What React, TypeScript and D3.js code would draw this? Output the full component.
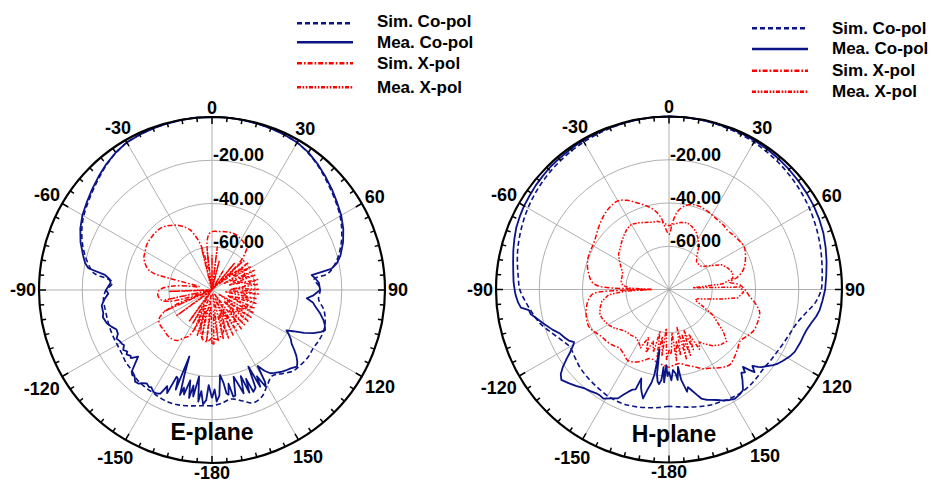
import * as d3 from "d3";

const WIDTH = 933;
const HEIGHT = 483;
const R = 173;
const NAVY = "#0a1486";
const RED = "#ff0000";
const GRID = "#a6a6a6";
const FONT = "'Liberation Sans', Arial, Helvetica, sans-serif";

const RING_DB = [-60, -40, -20];
const RING_LABELS = ["-60.00", "-40.00", "-20.00"];
const SPOKE_ANGLES = [0, 30, 60, 90, 120, 150, 180, 210, 240, 270, 300, 330];
const ANGLE_LABELS = ["0", "30", "60", "90", "120", "150", "-180", "-150", "-120", "-90", "-60", "-30"];
const LEGEND_LABELS = ["Sim. Co-pol", "Mea. Co-pol", "Sim. X-pol", "Mea. X-pol"];

// [angle in degrees, gain in dB]
const E_SIM_CO = [
  [-180, -26.4], [-175, -26.3], [-170, -25.6], [-165, -24.8], [-160, -24.4], [-155, -24.6], [-150, -25.2],
  [-145, -25.5], [-140, -26], [-135, -27.5], [-130, -28], [-125, -29], [-120, -29.4], [-115, -29.5],
  [-110, -29.6], [-105, -29.8], [-100, -29.8], [-95, -29.6], [-90, -31], [-87, -33.5], [-85, -33.4],
  [-82, -25], [-80, -23], [-75, -19.3], [-70, -16.2], [-65, -13.6], [-60, -11.5], [-55, -9.9], [-50, -8.2],
  [-45, -6.3], [-40, -4.3], [-35, -2.6], [-30, -1.3], [-25, -0.8], [-20, -0.5], [-15, -0.3], [-10, -0.1],
  [-5, 0], [0, 0], [5, 0], [10, -0.1], [15, -0.3], [20, -0.5], [25, -0.8], [30, -1.3], [35, -2.6],
  [40, -4.3], [45, -6.3], [50, -8.2], [55, -9.9], [60, -11.6], [65, -13.8], [70, -16.4], [75, -19.5],
  [80, -23.5], [82, -26], [84, -32.5], [87, -31], [90, -30], [95, -30.5], [100, -27.5], [105, -25.8],
  [110, -25], [115, -25.3], [120, -26], [125, -25.8], [130, -26.3], [135, -27], [140, -29.5], [145, -31.5],
  [150, -29], [155, -25.5], [160, -24.5], [165, -27], [170, -28.8], [175, -27.5], [180, -26.4],
];

const E_MEA_CO = [
  [-180, -30], [-178, -36], [-177, -29], [-175.5, -27], [-174, -33], [-173, -28], [-171.5, -39.5],
  [-170, -30], [-169, -35], [-168, -29], [-166.5, -37], [-165, -30], [-164, -33], [-163, -29.3],
  [-162, -38.7], [-161.2, -47.5], [-160, -31], [-159, -36], [-157.8, -36.7], [-156.5, -28], [-155, -31],
  [-153.5, -26.5], [-151.8, -25.7], [-150, -25.7], [-148, -27], [-147, -26.5], [-145, -27.3], [-143, -26],
  [-142, -25], [-140, -24.7], [-138, -26.5], [-137, -26], [-135.5, -27], [-134, -30.3], [-132, -34],
  [-130, -31], [-129, -31.6], [-127, -30.5], [-126, -31.6], [-124, -30.5], [-122, -32], [-121, -31.5],
  [-119, -31.2], [-117, -30.5], [-115, -32], [-112.5, -32.2], [-110, -30.5], [-107.5, -29], [-104, -28],
  [-102, -28.6], [-98, -28.5], [-95, -30], [-92, -32], [-90, -31], [-88, -32], [-86, -33], [-84, -32.4],
  [-82, -30], [-80, -22], [-78, -20], [-75, -18.3], [-70, -15.3], [-65, -12.8], [-60, -10.8], [-55, -9.3],
  [-50, -7.6], [-45, -5.8], [-40, -4], [-35, -2.4], [-30, -1.2], [-25, -0.8], [-20, -0.5], [-15, -0.3],
  [-10, -0.1], [-5, 0], [0, 0], [5, 0], [10, -0.1], [15, -0.3], [20, -0.5], [25, -0.8], [30, -1.2],
  [35, -2.3], [40, -4], [45, -5.8], [50, -7.6], [55, -9.4], [60, -11], [65, -13], [70, -15.5], [75, -18.5],
  [78, -21], [80, -24], [81.5, -33.4], [83.5, -32], [86, -30.5], [90, -30], [93, -33], [95, -36], [97, -33],
  [99, -31.7], [102, -29], [105, -26.7], [107, -25.5], [109.5, -24.5], [111, -26], [113, -29], [115, -33],
  [117, -38], [118.5, -40.8], [120, -39], [122, -37], [124, -35.6], [126, -33], [128, -30.5], [130, -28.5],
  [132, -27.1], [134.5, -28.5], [137, -29.4], [140, -30.5], [143, -32], [145, -33], [147, -35.5],
  [149, -39], [150, -31], [151, -29], [152.5, -35], [153.5, -30], [154.6, -40.8], [156, -30.5],
  [157.9, -29.2], [159, -36], [160, -29.5], [161.5, -38], [163, -30], [164.5, -35], [166, -38.7],
  [167.5, -30], [168.7, -29.7], [170, -36], [171, -31], [172, -31.7], [173, -37], [174.6, -40.5],
  [176, -31], [177.6, -28.4], [178.5, -34], [180, -30],
];

const E_SIM_X = [
  [-180, -58], [-175, -56], [-170, -56.5], [-165, -60], [-160, -68], [-157, -62], [-153, -56],
  [-150, -54.5], [-145, -51.5], [-140, -50.7], [-135, -50.6], [-130, -51], [-125, -51], [-120, -51.6],
  [-116, -54], [-112, -62], [-109, -75], [-106, -62], [-102, -56.5], [-97, -55], [-92, -55], [-88, -57],
  [-84, -62], [-80, -70], [-76, -74], [-74, -52], [-72, -49], [-68, -46.5], [-64, -45], [-60, -44.3],
  [-56, -43.4], [-52, -43], [-48, -42.8], [-44, -42.7], [-40, -42.8], [-36, -43.5], [-32, -44.8],
  [-28, -46], [-24, -48], [-20, -50.4], [-17, -54], [-14.4, -57.7], [-12, -64], [-9, -70], [-6, -58],
  [-3, -54], [0, -53], [5, -52.8], [10, -52.5], [15, -52.2], [20, -52], [25, -52.3], [30, -53],
  [35, -53.8], [39, -54.5], [42, -57], [45, -62], [48, -72], [52, -66], [56, -63], [60, -62], [65, -64],
  [70, -70], [75, -66], [80, -64], [85, -66], [90, -72], [95, -66], [100, -64], [105, -66], [110, -72],
  [115, -65], [120, -63], [125, -65], [130, -72], [135, -66], [140, -63], [145, -62], [150, -64],
  [155, -70], [160, -64], [165, -60], [170, -58], [175, -57], [180, -58],
];

const E_MEA_X = [
  [-180, -55], [-177, -72], [-174, -56], [-171, -78], [-168, -57], [-165, -70], [-162, -58], [-159, -75],
  [-156, -60], [-153, -72], [-150, -62], [-147, -78], [-144, -62], [-141, -76], [-136, -80], [-130, -78],
  [-126, -60], [-123, -78], [-118, -80], [-114, -56], [-111, -76], [-106, -80], [-102, -58], [-99, -78],
  [-95, -80], [-92, -60], [-89, -78], [-85, -80], [-75, -80], [-65, -80], [-55, -80], [-45, -80],
  [-35, -80], [-25, -80], [-18, -78], [-14, -60], [-11, -78], [-7, -62], [-4, -80], [0, -64], [3, -80],
  [7, -60], [10, -78], [14, -66], [18, -80], [25, -80], [30, -70], [34, -80], [40, -64], [44, -78],
  [47, -60], [50, -76], [53, -59], [56, -68], [59, -59], [62, -74], [65, -58.5], [68, -66], [71, -58.5],
  [74, -72], [77, -58.3], [80, -64], [83, -58.3], [86, -70], [89, -58.5], [92, -66], [95, -58.5],
  [98, -74], [101, -59], [104, -66], [107, -58.4], [110, -72], [113, -58.5], [116, -64], [119, -58],
  [122, -76], [125, -58], [128, -66], [131, -57.6], [134, -72], [137, -58], [140, -68], [143, -57.5],
  [146, -78], [149, -57.5], [152, -70], [155, -57], [158, -76], [161, -56.5], [164, -68], [167, -56.6],
  [170, -78], [173, -56.5], [176, -70], [178, -55], [180, -55],
];

const H_SIM_CO = [
  [-180, -26], [-175, -25.2], [-170, -24.5], [-165, -23.8], [-160, -23.2], [-155, -23], [-150, -23.2],
  [-145, -23.8], [-140, -24.3], [-135, -24.8], [-130, -25.5], [-125, -26.5], [-120, -27], [-115, -25],
  [-110, -22], [-105, -18.5], [-100, -16], [-95, -13.5], [-90, -11], [-85, -10], [-80, -8.8], [-75, -7.6],
  [-70, -6.6], [-65, -5.6], [-60, -4.7], [-55, -3.9], [-50, -3.2], [-45, -2.6], [-40, -2.1], [-35, -1.6],
  [-30, -1.2], [-25, -0.9], [-20, -0.6], [-15, -0.4], [-10, -0.2], [-5, -0.1], [0, 0], [5, -0.1],
  [10, -0.2], [15, -0.4], [20, -0.7], [25, -1], [30, -1.4], [35, -1.9], [40, -2.4], [45, -3], [50, -3.6],
  [55, -4.3], [60, -5], [65, -5.8], [70, -6.6], [75, -7.4], [80, -8.2], [85, -8.9], [90, -9.6], [95, -12],
  [100, -16], [105, -19], [110, -20.5], [115, -21.5], [120, -22.3], [125, -22.7], [130, -23], [135, -22.5],
  [140, -22], [145, -21.8], [150, -22.2], [155, -22.8], [160, -23.2], [165, -24], [170, -24.8],
  [175, -25.5], [180, -26],
];

const H_MEA_CO = [
  [-180, -42], [-179, -40], [-178, -45], [-177, -37], [-176, -44], [-175.2, -38], [-174, -36], [-173, -37],
  [-172, -40], [-171, -52], [-170.3, -40], [-169.3, -36], [-168, -33], [-166.6, -28.2], [-165, -31],
  [-164, -33], [-162.7, -36.9], [-161.5, -31.3], [-160, -30.7], [-158.2, -29], [-156.4, -26.8],
  [-154.9, -24.4], [-152, -23], [-149, -21.1], [-147, -21.5], [-145, -21.4], [-142, -20.5],
  [-139.6, -19.9], [-136, -18], [-133, -16.5], [-130, -15], [-128, -16.5], [-126, -19.4], [-124, -23],
  [-122.7, -25.4], [-120, -29], [-119, -29.8], [-117, -28], [-115, -27], [-112, -25.6], [-109, -23],
  [-105, -19.7], [-102, -17], [-100, -15], [-98.4, -14.5], [-97, -11], [-95, -10], [-92, -9], [-90, -8.6],
  [-87, -8], [-84, -7.6], [-80, -6.8], [-76, -5.8], [-72, -4.8], [-68, -3.8], [-64, -3.2], [-60, -2.6],
  [-56, -2.3], [-52, -1.8], [-48, -1.5], [-44, -1.1], [-40, -1], [-36, -0.8], [-32, -0.6], [-28, -0.4],
  [-24, -0.4], [-20, -0.3], [-15, -0.2], [-10, -0.1], [-5, 0], [0, 0], [5, 0], [10, -0.1], [15, -0.2],
  [20, -0.3], [25, -0.4], [30, -0.6], [35, -0.8], [40, -1.1], [45, -1.5], [50, -1.9], [55, -2.3],
  [60, -2.7], [65, -3.3], [70, -4], [75, -5], [80, -6], [85, -7], [90, -7.8], [94, -8.8], [97.8, -9.7],
  [100.4, -10.8], [103, -12.3], [106.4, -13.7], [108.8, -14.2], [112, -14.5], [116.4, -15.1],
  [119.1, -16.2], [122, -17.8], [124.2, -19.1], [126, -20.5], [128, -22.5], [130, -24.2], [131, -25.5],
  [132.5, -27.7], [134, -25], [135, -27.3], [136.3, -30.5], [137.5, -28], [139, -29], [141, -26],
  [143.6, -22.3], [146, -21.5], [149, -21], [151.2, -21.7], [153, -22.5], [155, -23.5], [157, -24.5],
  [159, -25.3], [161, -26], [163.5, -27.4], [165.5, -30], [167.5, -32.4], [169, -34], [170, -32],
  [171.5, -36], [172.3, -37.8], [173.4, -44], [174.5, -38], [175.5, -41], [177.2, -42.7], [178.5, -38],
  [180, -42],
];

const H_SIM_X = [
  [-180, -44], [-175, -45], [-170, -46], [-165, -47], [-160, -45], [-155, -43], [-150, -42], [-145, -43.5],
  [-140, -44.5], [-135, -43.5], [-130, -42.5], [-125, -42], [-120, -40.5], [-115, -39.2], [-110, -39.5],
  [-105, -40.3], [-100, -41.5], [-96, -43], [-93, -45], [-91, -60], [-90, -72], [-89, -60], [-87, -47],
  [-84, -44], [-80, -42.5], [-75, -41], [-70, -40], [-65, -39.5], [-60, -39.3], [-55, -38.5], [-50, -37],
  [-45, -35.5], [-40, -34], [-35, -33], [-30, -32.7], [-25, -34.5], [-20, -37.4], [-15, -40], [-10, -43],
  [-6, -47], [-3, -52], [0, -54.5], [3, -49], [6, -44], [10, -41], [15, -39.3], [20, -39], [25, -39.5],
  [30, -40.2], [35, -40.8], [40, -41], [45, -41.5], [50, -41], [55, -40.5], [60, -40], [65, -41],
  [70, -42.5], [75, -44.4], [80, -48], [83, -51.8], [86, -47.3], [90, -45], [95, -42.5], [100, -39],
  [104, -36.8], [110, -36.3], [116, -36.5], [121, -38], [126, -39.4], [131, -38], [136, -36.5],
  [141, -35.3], [146, -36.5], [151, -38.5], [157, -40.2], [162, -42.5], [167, -44], [172, -45.5],
  [176, -45], [180, -44],
];

const H_MEA_X = [
  [-180, -52], [-178, -47], [-176, -62], [-174, -49], [-172, -58], [-170, -48], [-168, -60], [-166, -50],
  [-163, -55], [-160, -49], [-157, -56], [-154, -50], [-150, -52], [-145, -53], [-140, -52.5],
  [-135, -52.3], [-130, -51], [-125, -49], [-120, -47.5], [-115, -46.5], [-110, -46], [-105, -47],
  [-100, -48.5], [-95, -52], [-92, -60], [-90, -72], [-88, -62], [-85, -58.5], [-80, -57.5], [-75, -57.5],
  [-70, -57.2], [-65, -55.5], [-60, -53.5], [-55, -51.5], [-50, -50.5], [-45, -49], [-40, -47.5],
  [-35, -46], [-30, -45.2], [-25, -46], [-20, -47], [-15, -47.8], [-10, -48], [-5, -49], [0, -50.5],
  [5, -49.5], [10, -48.5], [15, -48], [20, -49], [25, -50.5], [30, -53], [35, -56], [40, -60], [45, -62],
  [50, -62], [55, -61.5], [60, -58], [65, -53], [70, -51], [75, -49.6], [80, -50], [84, -55], [86, -69],
  [88, -47], [92, -45.5], [97, -48], [100, -55], [104, -62], [108, -66], [112, -67], [116, -63], [120, -57],
  [124, -53], [128, -48], [132, -44.2], [137, -45], [142, -47], [147, -50], [150, -52], [153, -49],
  [156, -57], [158, -50], [160, -60], [162, -48], [164, -58], [166, -47], [168, -62], [170, -49],
  [172, -56], [174, -47], [176, -60], [178, -50], [180, -52],
];

const SERIES_STYLE = {
  simCo: { color: NAVY, dash: "5,3", width: 1.6, smooth: true },
  meaCo: { color: NAVY, dash: undefined, width: 1.8, smooth: false },
  simX: { color: RED, dash: "5,2,1.6,2", width: 1.5, smooth: true },
  meaX: { color: RED, dash: "4,1.6,1.6,1.6,1.6,1.6", width: 1.5, smooth: false },
};
const LEGEND_KEYS = ["simCo", "meaCo", "simX", "meaX"];

function labelWidth(text: string, size: number) {
  let w = 0;
  for (const ch of text) w += ch === "-" ? 0.333 : ch === "." ? 0.278 : 0.556;
  return w * size;
}

type PanelProps = {
  cx: number;
  cy: number;
  title: string;
  titleX: number;
  titleY: number;
  data: Record<string, number[][]>;
};

function PolarPanel({ cx, cy, title, titleX, titleY, data }: PanelProps) {
  const r = d3.scaleLinear().domain([-80, 0]).range([0, R]).clamp(true);
  const toRad = (deg: number) => (deg * Math.PI) / 180;
  const smoothLine = d3
    .lineRadial<number[]>()
    .angle((d) => toRad(d[0]))
    .radius((d) => r(d[1]))
    .curve(d3.curveCatmullRom.alpha(0.5));
  const rawLine = d3
    .lineRadial<number[]>()
    .angle((d) => toRad(d[0]))
    .radius((d) => r(d[1]))
    .curve(d3.curveLinear);
  const tickAngles = d3.range(0, 360, 5);

  return (
    <g transform={`translate(${cx},${cy})`}>
      {RING_DB.map((v) => (
        <circle key={v} r={r(v)} fill="none" stroke={GRID} strokeWidth={0.9} />
      ))}
      {SPOKE_ANGLES.map((a) => (
        <line
          key={a}
          x1={0}
          y1={0}
          x2={R * Math.sin(toRad(a))}
          y2={-R * Math.cos(toRad(a))}
          stroke={GRID}
          strokeWidth={0.9}
        />
      ))}
      {["simX", "meaX", "simCo", "meaCo"].map((key) => {
        const st = SERIES_STYLE[key];
        const gen = st.smooth ? smoothLine : rawLine;
        return (
          <path
            key={key}
            d={gen(data[key]) || ""}
            fill="none"
            stroke={st.color}
            strokeWidth={st.width}
            strokeDasharray={st.dash}
            strokeLinejoin="round"
          />
        );
      })}
      <circle r={R} fill="none" stroke="#000" strokeWidth={2.2} />
      {tickAngles.map((a) => {
        const len = a % 30 === 0 ? 7 : 4.5;
        const s = Math.sin(toRad(a));
        const c = Math.cos(toRad(a));
        return (
          <line
            key={a}
            x1={(R - len) * s}
            y1={-(R - len) * c}
            x2={R * s}
            y2={-R * c}
            stroke="#000"
            strokeWidth={1.5}
          />
        );
      })}
      {SPOKE_ANGLES.map((a, i) => {
        const label = ANGLE_LABELS[i];
        const s = Math.sin(toRad(a));
        const c = Math.cos(toRad(a));
        const half = labelWidth(label, 18) / 2;
        const extra = c < -0.95 ? 0 : c < 0 ? -3.5 * c : 0;
        const rl = 176 + half * Math.abs(s) + 6.5 * Math.abs(c) + extra;
        return (
          <text
            key={a}
            x={rl * s}
            y={-rl * c}
            dy="0.36em"
            textAnchor="middle"
            fontFamily={FONT}
            fontWeight="bold"
            fontSize={18}
            fill="#000"
          >
            {label}
          </text>
        );
      })}
      {RING_DB.map((v, i) => (
        <text
          key={v}
          x={1}
          y={-r(v) + 1}
          fontFamily={FONT}
          fontWeight="bold"
          fontSize={18}
          fill="#000"
        >
          {RING_LABELS[i]}
        </text>
      ))}
      <text
        x={titleX - cx}
        y={titleY - cy}
        textAnchor="middle"
        fontFamily={FONT}
        fontWeight="bold"
        fontSize={23}
        fill="#000"
      >
        {title}
      </text>
    </g>
  );
}

function Legend({ x1, x2, textX, lineYs, textYs }) {
  return (
    <g>
      {LEGEND_KEYS.map((key, i) => {
        const st = SERIES_STYLE[key];
        return (
          <g key={key}>
            <line
              x1={x1}
              x2={x2}
              y1={lineYs[i]}
              y2={lineYs[i]}
              stroke={st.color}
              strokeWidth={2.4}
              strokeDasharray={st.dash}
            />
            <text x={textX} y={textYs[i]} fontFamily={FONT} fontWeight="bold" fontSize={17} fill="#000">
              {LEGEND_LABELS[i]}
            </text>
          </g>
        );
      })}
    </g>
  );
}

export default function App() {
  return (
    <div style={{ position: "absolute", left: 0, top: 0 }}>
      <svg width={WIDTH} height={HEIGHT} viewBox={`0 0 ${WIDTH} ${HEIGHT}`} style={{ display: "block", background: "#fff" }}>
        <rect width={WIDTH} height={HEIGHT} fill="#fff" />
        <PolarPanel
          cx={212}
          cy={290}
          title="E-plane"
          titleX={212}
          titleY={440}
          data={{ simCo: E_SIM_CO, meaCo: E_MEA_CO, simX: E_SIM_X, meaX: E_MEA_X }}
        />
        <PolarPanel
          cx={669}
          cy={289.5}
          title="H-plane"
          titleX={674}
          titleY={441.5}
          data={{ simCo: H_SIM_CO, meaCo: H_MEA_CO, simX: H_SIM_X, meaX: H_MEA_X }}
        />
        <Legend x1={297} x2={353} textX={377} lineYs={[23.3, 42.3, 63.3, 87.3]} textYs={[27, 47.5, 68.5, 93]} />
        <Legend x1={752} x2={808} textX={832} lineYs={[28.3, 49, 70.7, 91.7]} textYs={[33.5, 53.5, 76, 97]} />
      </svg>
    </div>
  );
}
